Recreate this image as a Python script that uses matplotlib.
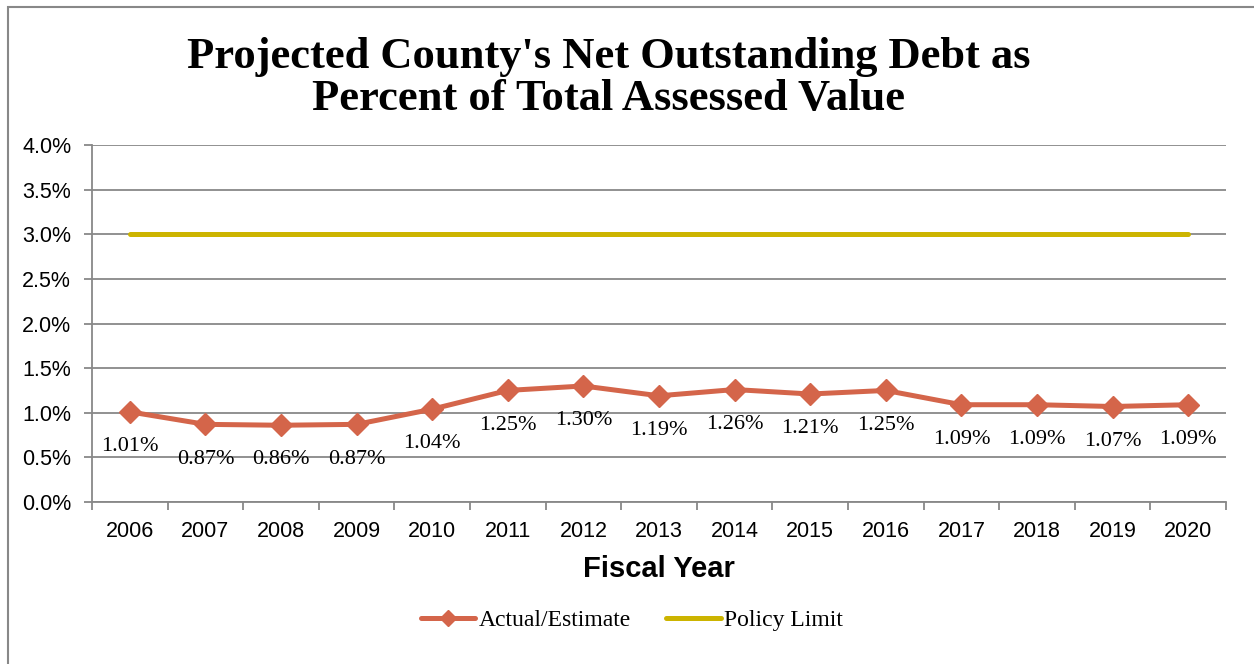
import matplotlib.pyplot as plt
from matplotlib.patches import Rectangle
from matplotlib.ticker import FixedLocator, PercentFormatter
import numpy as np

years = ['2006', '2007', '2008', '2009', '2010', '2011', '2012', '2013',
         '2014', '2015', '2016', '2017', '2018', '2019', '2020']
actual = [1.01, 0.87, 0.86, 0.87, 1.04, 1.25, 1.30, 1.19,
          1.26, 1.21, 1.25, 1.09, 1.09, 1.07, 1.09]
policy_limit = [3.0] * len(years)

ORANGE = '#D4654A'
GOLD = '#CCB400'
GRID = '#888888'

W, H = 1254, 664
fig = plt.figure(figsize=(W / 100, H / 100), dpi=100)
ax = fig.add_axes([92 / W, 1 - 502 / H, (1226 - 92) / W, (502 - 145) / H])

x = np.arange(len(years))
ax.plot(x, actual, color=ORANGE, lw=3.6, marker='D', markersize=11,
        solid_capstyle='round', label='Actual/Estimate', zorder=3)
ax.plot(x, policy_limit, color=GOLD, lw=3.6, solid_capstyle='round',
        label='Policy Limit', zorder=3)

for xi, v in zip(x, actual):
    ax.annotate(f'{v:.2f}%', (xi, v), xytext=(0, -25), textcoords='offset points',
                ha='center', va='center', fontsize=16, family='Liberation Serif')

ax.set_xlim(-0.5, len(years) - 0.5)
ax.set_ylim(0, 4.0)
ax.set_yticks(np.arange(0, 4.01, 0.5))
ax.yaxis.set_major_formatter(PercentFormatter(decimals=1))
ax.grid(axis='y', color=GRID, lw=1.3)
ax.set_axisbelow(True)

ax.set_xticks(x)
ax.set_xticklabels(years)
ax.xaxis.set_minor_locator(FixedLocator(np.arange(-0.5, len(years), 1.0)))
ax.tick_params(axis='x', which='major', length=0, pad=14, labelsize=15.5)
ax.tick_params(axis='x', which='minor', length=6, width=1.3, color=GRID)
ax.tick_params(axis='y', length=6, width=1.3, color=GRID, labelsize=15.5, pad=9)
for lab in ax.get_xticklabels() + ax.get_yticklabels():
    lab.set_family('Liberation Sans')

for side in ['top', 'right']:
    ax.spines[side].set_visible(False)
for side in ['left', 'bottom']:
    ax.spines[side].set_color(GRID)
    ax.spines[side].set_linewidth(1.3)

ax.set_xlabel('Fiscal Year', fontsize=21, fontweight='bold',
              family='Liberation Sans', labelpad=9)

fig.text(609 / W, 1 - 78 / H,
         "Projected County's Net Outstanding Debt as\nPercent of Total Assessed Value",
         ha='center', va='center', fontsize=32, fontweight='bold',
         family='Liberation Serif', linespacing=1.05)

leg = fig.legend(loc='center', bbox_to_anchor=(632 / W, 1 - 620 / H), ncol=2,
                 frameon=False, prop={'family': 'Liberation Serif', 'size': 17},
                 handlelength=2.3, handletextpad=0.15, columnspacing=1.5,
                 markerscale=0.7)

fig.add_artist(Rectangle((8 / W, -0.05), 1.2, 1 - 7 / H + 0.05,
                         transform=fig.transFigure, fill=False,
                         edgecolor=GRID, lw=1.5))

plt.savefig('out.png', dpi=100)
